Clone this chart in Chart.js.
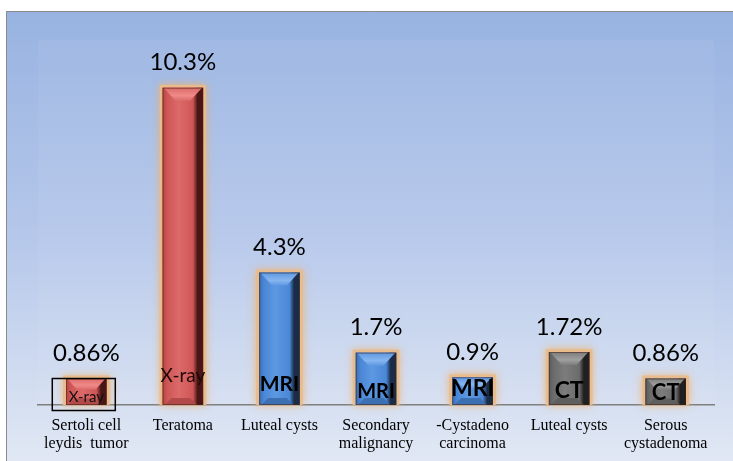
<!DOCTYPE html>
<html>
<head>
<meta charset="utf-8">
<script src="https://cdn.jsdelivr.net/npm/chart.js@4"></script>
<style>
  html, body { margin: 0; padding: 0; background: #fff; }
  #wrap { width: 733px; height: 461px; position: relative; }
</style>
</head>
<body>
<div id="wrap"><canvas id="myChart" width="733" height="461"></canvas></div>
<script>
// chart data
const categories = [
    ['Sertoli cell', 'leydis  tumor'],
    'Teratoma',
    'Luteal cysts',
    ['Secondary', 'malignancy'],
    ['-Cystadeno', 'carcinoma'],
    'Luteal cysts',
    ['Serous', 'cystadenoma']
];
const percentValues = [0.86, 10.3, 4.3, 1.7, 0.9, 1.72, 0.86];
const valueLabels = ['0.86%', '10.3%', '4.3%', '1.7%', '0.9%', '1.72%', '0.86%'];
const modalities = ['X-ray', 'X-ray', 'MRI', 'MRI', 'MRI', 'CT', 'CT'];

// look of each modality: base, light bevel, dark bevel
const modalityStyle = {
    'X-ray': {base: '#cf5656', light: '#ef8a88', dark: '#4a1515', left: '#b24646', bottom: '#b24a4a', mid: '#db6a69'},
    'MRI':   {base: '#4a87d6', light: '#86b6f0', dark: '#1a2c46', left: '#3b6fb4', bottom: '#3d70b2', mid: '#5d98e2'},
    'CT':    {base: '#6c6c6c', light: '#a0a0a0', dark: '#202020', left: '#5a5a5a', bottom: '#5e5e5e', mid: '#7c7c7c'}
};
// text inside each bar: font and distance of its centre from the bar base
const innerText = [
    {font: '15px Lato', dy: 8, color: '#111'},
    {font: '19px Lato', dy: 29, color: '#1e0808'},
    {font: 'bold 21px Lato', dy: 21, color: '#000'},
    {font: 'bold 20px Lato', dy: 13, color: '#000'},
    {font: 'bold 23px Lato', dy: 16, color: '#000'},
    {font: 'bold 23px Lato', dy: 14, color: '#000'},
    {font: 'bold 22px Lato', dy: 12, color: '#000'}
];

const backgroundPlugin = {
    id: 'backgroundPlugin',
    beforeDraw(chart) {
        const ctx = chart.ctx;
        const {width, height, chartArea} = chart;
        ctx.save();
        ctx.fillStyle = '#ffffff';
        ctx.fillRect(0, 0, width, height);
        const g = ctx.createLinearGradient(0, 11, 0, height);
        g.addColorStop(0, '#98b3e1');
        g.addColorStop(0.5, '#b5c7ea');
        g.addColorStop(1, '#e1e8f4');
        ctx.fillStyle = g;
        ctx.fillRect(6, 11, width - 6, height - 11);
        ctx.fillStyle = 'rgba(255,255,255,0.05)';
        ctx.fillRect(chartArea.left, chartArea.top, chartArea.right - chartArea.left, chartArea.bottom - chartArea.top);
        ctx.strokeStyle = '#8a8a8a';
        ctx.lineWidth = 1;
        ctx.beginPath();
        ctx.moveTo(6.5, height);
        ctx.lineTo(6.5, 11.5);
        ctx.lineTo(width, 11.5);
        ctx.stroke();
        ctx.restore();
    }
};

function barBox(bar) {
    const p = bar.getProps(['x', 'y', 'base', 'width'], true);
    return {x0: p.x - p.width / 2, x1: p.x + p.width / 2, y0: p.y, y1: p.base, cx: p.x};
}

function poly(ctx, pts, fill) {
    ctx.beginPath();
    ctx.moveTo(pts[0][0], pts[0][1]);
    for (let i = 1; i < pts.length; i++) ctx.lineTo(pts[i][0], pts[i][1]);
    ctx.closePath();
    ctx.fillStyle = fill;
    ctx.fill();
}

const bevelPlugin = {
    id: 'bevelPlugin',
    beforeDatasetsDraw(chart) {
        // orange glow behind each bar
        const ctx = chart.ctx;
        const meta = chart.getDatasetMeta(0);
        ctx.save();
        meta.data.forEach(bar => {
            const b = barBox(bar);
            ctx.shadowColor = 'rgba(245,175,100,0.9)';
            ctx.shadowBlur = 8;
            ctx.fillStyle = 'rgba(232,188,140,0.95)';
            ctx.fillRect(b.x0 - 3, b.y0 - 3, b.x1 - b.x0 + 6, b.y1 - b.y0 + 3);
        });
        ctx.restore();
    },
    afterDatasetsDraw(chart) {
        const ctx = chart.ctx;
        const meta = chart.getDatasetMeta(0);
        ctx.save();
        meta.data.forEach((bar, i) => {
            const s = modalityStyle[modalities[i]];
            const b = barBox(bar);
            const w = b.x1 - b.x0, h = b.y1 - b.y0;
            const k = Math.min(13, w / 3, h / 2.4);
            const kb = Math.min(7, h / 4);
            const face = ctx.createLinearGradient(b.x0, 0, b.x1, 0);
            face.addColorStop(0, s.left);
            face.addColorStop(0.12, s.base);
            face.addColorStop(0.4, s.mid);
            face.addColorStop(0.75, s.base);
            face.addColorStop(0.86, s.dark);
            face.addColorStop(1, s.dark);
            ctx.fillStyle = face;
            ctx.fillRect(b.x0, b.y0, w, h);
            // bottom bevel
            poly(ctx, [[b.x0 + 2, b.y1], [b.x0 + kb + 2, b.y1 - kb], [b.x1 - kb - 6, b.y1 - kb], [b.x1 - 6, b.y1]], s.bottom);
            // top bevel highlight
            const top = ctx.createLinearGradient(0, b.y0, 0, b.y0 + k);
            top.addColorStop(0, s.mid);
            top.addColorStop(0.6, s.light);
            top.addColorStop(1, s.mid);
            poly(ctx, [[b.x0 + 1, b.y0], [b.x1 - 1, b.y0], [b.x1 - k, b.y0 + k], [b.x0 + k, b.y0 + k]], top);
            ctx.strokeStyle = 'rgba(70,35,20,0.55)';
            ctx.lineWidth = 1;
            ctx.strokeRect(b.x0 + 0.5, b.y0 + 0.5, w - 1, h - 1);

            // value above the bar
            ctx.fillStyle = '#000';
            ctx.font = '24px Lato';
            ctx.textAlign = 'center';
            ctx.textBaseline = 'bottom';
            ctx.fillText(valueLabels[i], b.cx, b.y0 - 13);

            // modality inside the bar
            const t = innerText[i];
            ctx.font = t.font;
            ctx.fillStyle = t.color;
            ctx.textBaseline = 'middle';
            ctx.fillText(modalities[i], b.cx, b.y1 - t.dy);
        });
        // frame round the first modality label
        const first = barBox(meta.data[0]);
        ctx.strokeStyle = '#000';
        ctx.lineWidth = 1.5;
        ctx.strokeRect(first.cx - 34, first.y0, 63, 32);
        ctx.restore();
    }
};

const ctx = document.getElementById('myChart').getContext('2d');
const chart = new Chart(ctx, {
    type: 'bar',
    data: {
        labels: categories,
        datasets: [{
            data: percentValues,
            backgroundColor: modalities.map(m => modalityStyle[m].base),
            barPercentage: 0.42,
            categoryPercentage: 1.0
        }]
    },
    options: {
        responsive: false,
        animation: false,
        layout: {padding: {top: 40, left: 38, right: 19, bottom: 0}},
        plugins: {
            legend: {display: false},
            tooltip: {enabled: false}
        },
        scales: {
            x: {
                grid: {display: false},
                border: {display: true, color: '#7f7f7f', width: 1.5},
                ticks: {
                    color: '#000',
                    font: {family: 'Liberation Serif', size: 16, lineHeight: 1.1},
                    padding: 4,
                    maxRotation: 0,
                    autoSkip: false
                },
                afterFit(scale) { scale.height = 56; }
            },
            y: {
                display: false,
                min: 0,
                max: 11.85
            }
        }
    },
    plugins: [backgroundPlugin, bevelPlugin]
});
</script>
</body>
</html>
